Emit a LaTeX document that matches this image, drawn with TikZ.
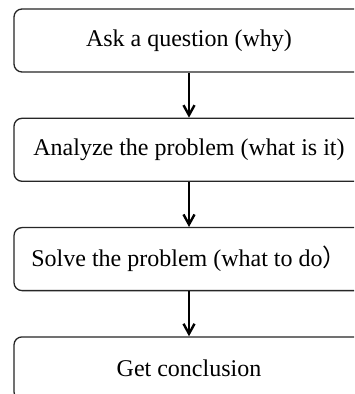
\documentclass[tikz,border=0pt]{standalone}
\usepackage{fontspec}
\setmainfont{Liberation Serif}
\newfontfamily\cjk{Noto Sans CJK SC}
\usepackage{tikz}
\usetikzlibrary{positioning,arrows.meta}

\begin{document}
\begin{tikzpicture}[auto,
    ->,
    >={Straight Barb[length=5pt,width=5.5pt,line width=1.2pt]},
    node distance=22.5pt,
    qbox/.style={%
      rectangle, rounded corners=4pt, draw=black!85, line width=0.65pt,
      fill=white, minimum width=175pt, minimum height=31.5pt,
      inner sep=4pt, align=center, font=\fontsize{12}{14}\selectfont
    },
    link/.style={line width=1.1pt, black}
]
    % keep the crop of the original picture
    \clip (-94.5pt,20.25pt) rectangle (82.5pt,-176.75pt);

    \node[qbox] (1)                 {Ask a question (why)};
    \node[qbox] (2) [below = of 1]  {Analyze the problem (what is it)};
    \node[qbox] (3) [below = of 2]  {Solve the problem (what to do{\cjk ）}};
    \node[qbox] (4) [below = of 3]  {Get conclusion};

    \path[link] (1) edge node {} (2)
                (2) edge node {} (3)
                (3) edge node {} (4)
    ;

\end{tikzpicture}
\end{document}
